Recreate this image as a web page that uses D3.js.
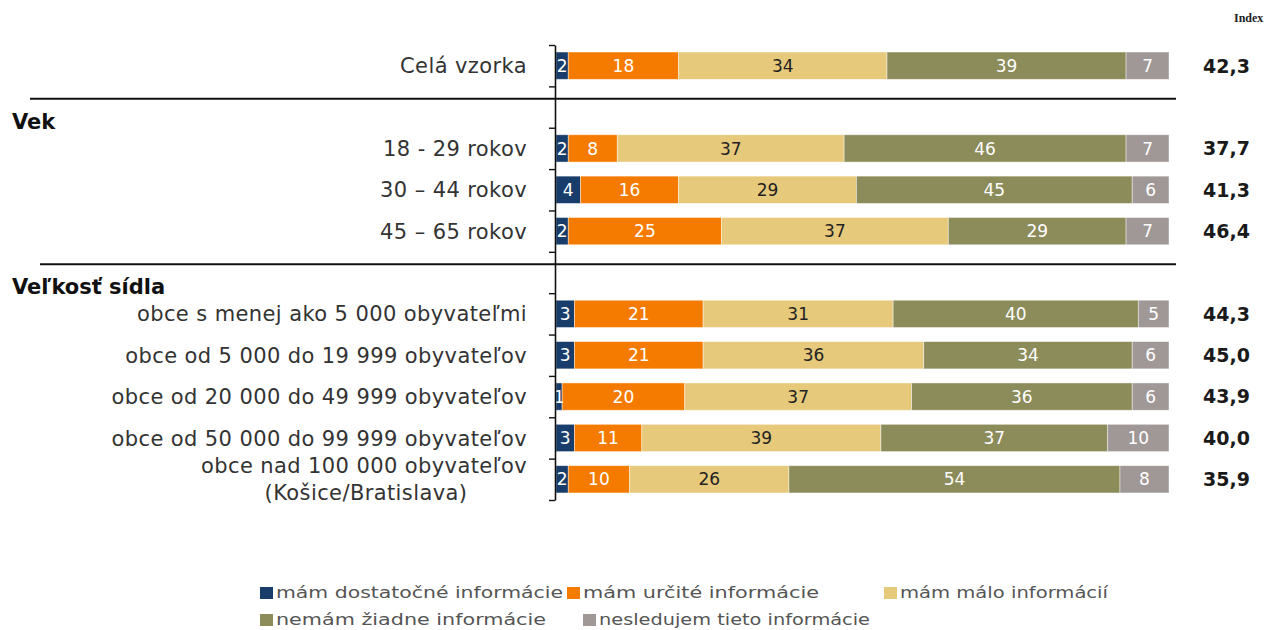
<!DOCTYPE html>
<html>
<head>
<meta charset="utf-8">
<script src="https://cdn.jsdelivr.net/npm/d3@7"></script>
<style>
  html, body { margin: 0; padding: 0; background: #fff; }
  svg { display: block; }
</style>
</head>
<body>
<svg id="chart" width="1267" height="630"></svg>
<script>
// ---- data ----
const categories = [
  "Celá vzorka", "", "18 - 29 rokov", "30 – 44 rokov", "45 – 65 rokov", "",
  "obce s menej ako 5 000 obyvateľmi", "obce od 5 000 do 19 999 obyvateľov",
  "obce od 20 000 do 49 999 obyvateľov", "obce od 50 000 do 99 999 obyvateľov",
  "obce nad 100 000 obyvateľov|(Košice/Bratislava)"
];
const groupHeaders = [null, "Vek", null, null, null, "Veľkosť sídla", null, null, null, null, null];
const seriesNames = ["mám dostatočné informácie", "mám určité informácie", "mám málo informácií",
                     "nemám žiadne informácie", "nesledujem tieto informácie"];
const dostatocne = [2, null, 2, 4, 2, null, 3, 3, 1, 3, 2];
const urcite     = [18, null, 8, 16, 25, null, 21, 21, 20, 11, 10];
const malo       = [34, null, 37, 29, 37, null, 31, 36, 37, 39, 26];
const ziadne     = [39, null, 46, 45, 29, null, 40, 34, 36, 37, 54];
const nesledujem = [7, null, 7, 6, 7, null, 5, 6, 6, 10, 8];
const indexValues = [42.3, null, 37.7, 41.3, 46.4, null, 44.3, 45.0, 43.9, 40.0, 35.9];
const seriesColors = ["#193d6b", "#f57b00", "#e6c97a", "#8c8b5a", "#9f9896"];
const labelColors = ["#fff", "#fff", "#222", "#fff", "#fff"];

const seriesValues = [dostatocne, urcite, malo, ziadne, nesledujem];

// ---- scales ----
const svg = d3.select("#chart");
const yBand = d3.scaleBand().domain(d3.range(categories.length)).range([45, 500])
  .paddingInner(0.34).paddingOuter(0.17);
const yTick = d3.scaleLinear().domain([0, categories.length]).range([45, 500]);
const x = d3.scaleLinear().domain([0, 100]).range([556, 1169]);
const step = yBand.step();

// table for stacking
const rows = categories.map((c, i) => {
  const r = { i };
  seriesNames.forEach((s, k) => r[s] = seriesValues[k][i] || 0);
  return r;
});
const stacked = d3.stack().keys(seriesNames)(rows);

// ---- bars ----
const layers = svg.append("g").selectAll("g").data(stacked).join("g")
  .attr("fill", (d, k) => seriesColors[k]);
layers.selectAll("rect").data(d => d.filter(p => p[1] > p[0]).map(p => ({ p, i: p.data.i })))
  .join("rect")
  .attr("x", d => x(d.p[0]))
  .attr("y", d => yBand(d.i))
  .attr("width", d => x(d.p[1]) - x(d.p[0]))
  .attr("height", yBand.bandwidth())
  .attr("stroke", "rgba(255,255,255,0.55)")
  .attr("stroke-width", 0.8);

// value labels
stacked.forEach((layer, k) => {
  svg.append("g").selectAll("text")
    .data(layer.filter(p => p[1] > p[0]))
    .join("text")
    .attr("x", p => (x(p[0]) + x(p[1])) / 2)
    .attr("y", p => yBand(p.data.i) + yBand.bandwidth() / 2)
    .attr("dy", "0.36em")
    .attr("text-anchor", "middle")
    .attr("fill", labelColors[k])
    .style("font-family", "'DejaVu Sans', sans-serif")
    .style("font-size", "17px")
    .text(p => p[1] - p[0]);
});

// ---- axis ----
const axis = d3.axisLeft(yTick).tickValues(d3.range(categories.length + 1))
  .tickFormat("").tickSize(6).tickSizeOuter(0);
const ag = svg.append("g").attr("transform", "translate(555,0)").call(axis);
ag.select(".domain").attr("stroke", "#111").attr("stroke-width", 1.6);
ag.selectAll(".tick line").attr("stroke", "#111").attr("stroke-width", 1.4);

// ---- category labels ----
const labelG = svg.append("g")
  .style("font-family", "'DejaVu Sans', sans-serif")
  .style("font-size", "21px")
  .attr("fill", "#333");
categories.forEach((c, i) => {
  if (!c) return;
  const parts = c.split("|");
  const cy = yBand(i) + yBand.bandwidth() / 2;
  if (parts.length === 1) {
    labelG.append("text").attr("x", 527).attr("y", cy).attr("dy", "0.36em")
      .attr("text-anchor", "end").style("letter-spacing", "0.4px").text(parts[0]);
  } else {
    labelG.append("text").attr("x", 527).attr("y", cy - 14).attr("dy", "0.36em")
      .attr("text-anchor", "end").style("letter-spacing", "0.4px").text(parts[0]);
    labelG.append("text").attr("x", 366).attr("y", cy + 13).attr("dy", "0.36em")
      .attr("text-anchor", "middle").style("letter-spacing", "0.4px").text(parts[1]);
  }
});

// ---- group headers and separators ----
groupHeaders.forEach((h, i) => {
  if (!h) return;
  const top = yTick(i);
  svg.append("line")
    .attr("x1", i === 1 ? 30 : 40).attr("x2", 1176)
    .attr("y1", top + step * 0.3).attr("y2", top + step * 0.3)
    .attr("stroke", "#111").attr("stroke-width", 2.2);
  svg.append("text").attr("x", 12).attr("y", top + step * 0.84).attr("dy", "0.36em")
    .style("font-family", "'DejaVu Sans', sans-serif").style("font-size", "21px")
    .style("font-weight", "bold").attr("fill", "#111").text(h);
});

// ---- index column ----
svg.append("text").attr("x", 1234).attr("y", 18).attr("dy", "0.36em")
  .style("font-family", "'Liberation Serif', serif").style("font-size", "12px")
  .style("font-weight", "bold").attr("fill", "#222").text("Index");
const fmt = v => v.toFixed(1).replace(".", ",");
svg.append("g").selectAll("text").data(indexValues.map((v, i) => ({ v, i })).filter(d => d.v != null))
  .join("text")
  .attr("x", 1203).attr("y", d => yBand(d.i) + yBand.bandwidth() / 2).attr("dy", "0.36em")
  .style("font-family", "'DejaVu Sans', sans-serif").style("font-size", "19px")
  .style("font-weight", "bold").attr("fill", "#1a1a1a")
  .text(d => fmt(d.v));

// ---- legend ----
const legendPos = [[260, 593], [567, 593], [884, 593], [260, 620], [583, 620]];
const legendTextWidth = [287, 236, 208, 270, 271];
const lg = svg.append("g").selectAll("g").data(seriesNames).join("g")
  .attr("transform", (d, k) => `translate(${legendPos[k][0]},${legendPos[k][1]})`);
lg.append("rect").attr("x", 0).attr("y", -6).attr("width", 13).attr("height", 12)
  .attr("fill", (d, k) => seriesColors[k]);
lg.append("text").attr("x", 16).attr("y", 0).attr("dy", "0.36em")
  .attr("textLength", (d, k) => legendTextWidth[k]).attr("lengthAdjust", "spacingAndGlyphs")
  .style("font-family", "'DejaVu Sans', sans-serif")
  .style("font-size", "15px").attr("fill", "#555").text(d => d);
</script>
</body>
</html>
